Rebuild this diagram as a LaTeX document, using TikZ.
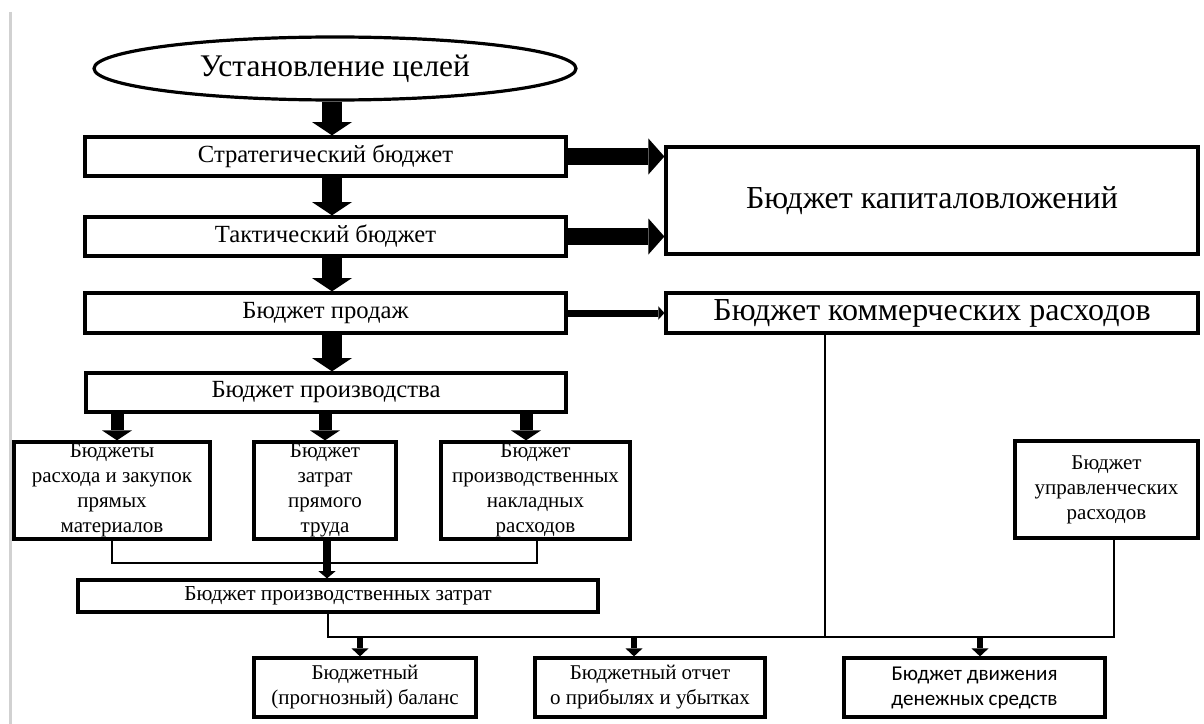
\documentclass[tikz,border=0pt]{standalone}
\usepackage{fontspec}
\setmainfont{Liberation Serif}
\newfontfamily\calfont{Carlito}
\usetikzlibrary{arrows.meta,shapes.geometric}
\begin{document}
\begin{tikzpicture}[x=0.75pt,y=-0.75pt,
  bx/.style={draw, line width=2.4pt, inner sep=0pt, align=center},
  ell/.style={ellipse, draw, line width=2.4pt, inner sep=0pt, minimum width=361.5pt, minimum height=47.25pt},
  fbig/.style={font=\fontsize{23.6}{28}\selectfont},
  flarge/.style={font=\fontsize{24}{28}\selectfont},
  fmid/.style={font=\fontsize{18.5}{22}\selectfont},
  fpz/.style={font=\fontsize{16}{19}\selectfont},
  fsmall/.style={font=\fontsize{15.75}{18.75}\selectfont},
  fcal/.style={font=\calfont\fontsize{15.8}{18.75}\selectfont},
  conn/.style={line width=0.9pt},
  bigarr/.style={line width=15pt, -{Triangle[width=30pt 0 0,length=10pt 0 0,line width=0pt]}},
  harr/.style={line width=12.75pt, -{Triangle[width=27pt 0 0,length=12pt 0 0,line width=0pt]}},
  medarr/.style={line width=9.75pt, -{Triangle[width=22.5pt 0 0,length=7.5pt 0 0,line width=0pt]}},
  smarr/.style={line width=6pt, -{Triangle[width=13pt 0 0,length=5.5pt 0 0,line width=0pt]}},
  sarr/.style={line width=5.25pt, -{Triangle[width=10pt 0 0,length=4.5pt 0 0,line width=0pt]}},
  botarr/.style={line width=4.5pt, -{Triangle[width=12.75pt 0 0,length=6pt 0 0,line width=0pt]}}
]
\useasboundingbox (0,0) rectangle (1204,724);
\fill[white] (0,0) rectangle (1204,724);
\draw[line width=2.25pt, black!18] (10,12) -- (10,724);

% nodes
\node[ell, fbig] (el) at (335,68.5) {Установление целей};
\node[bx, fmid, minimum width=360.75pt, minimum height=29.25pt] (strat) at (325.5,156.5) {Стратегический бюджет};
\node[bx, fmid, minimum width=360.75pt, minimum height=29.25pt] (tact) at (325.5,236.5) {Тактический бюджет};
\node[bx, fmid, minimum width=360.75pt, minimum height=30pt] (sales) at (325.5,313) {Бюджет продаж};
\node[bx, fmid, minimum width=360pt, minimum height=29.25pt] (prod) at (326,392.5) {Бюджет производства};
\node[bx, fsmall, minimum width=147pt, minimum height=72.75pt] (b1) at (112,490.5) {Бюджеты\\расхода и закупок\\прямых\\материалов};
\node[bx, fsmall, minimum width=106.5pt, minimum height=72.75pt] (b2) at (325,490.5) {Бюджет\\затрат\\прямого\\труда};
\node[bx, fsmall, minimum width=141.75pt, minimum height=72.75pt] (b3) at (535.5,490.5) {Бюджет\\производственных\\накладных\\расходов};
\node[bx, fpz, minimum width=390pt, minimum height=24pt] (pz) at (338,596) {Бюджет производственных затрат};
\node[bx, flarge, minimum width=399pt, minimum height=80.25pt] (cap) at (932,200.5) {Бюджет капиталовложений};
\node[bx, flarge, minimum width=399pt, minimum height=30pt] (comm) at (932,313) {Бюджет коммерческих расходов};
\node[bx, fsmall, minimum width=137.25pt, minimum height=72.75pt] (admin) at (1106.5,489.5) {Бюджет\\управленческих\\расходов};
\node[bx, fsmall, minimum width=166.5pt, minimum height=44.25pt] (bal) at (365,687.5) {Бюджетный\\(прогнозный) баланс};
\node[bx, fsmall, minimum width=172.5pt, minimum height=44.25pt] (pnl) at (650,687.5) {Бюджетный отчет\\о прибылях и убытках};
\node[bx, fcal, minimum width=195.75pt, minimum height=44.25pt] (cash) at (974.5,687.5) {Бюджет движения\\денежных средств};

% column / junction coordinates
\coordinate (cA) at (332,0);
\coordinate (c1) at (117,0);
\coordinate (c2) at (325,0);
\coordinate (c3) at (526,0);
\coordinate (cL) at (112,0);
\coordinate (cR) at (537,0);
\coordinate (cB) at (327,0);
\coordinate (cP) at (328,0);
\coordinate (cK) at (825,0);
\coordinate (cM) at (1114,0);
\coordinate (d1) at (360,0);
\coordinate (d2) at (634,0);
\coordinate (d3) at (980,0);
\coordinate (j1) at (0,563);
\coordinate (j2) at (0,637);

% main column arrows
\draw[bigarr] (el.south -| cA) -- (strat.north -| cA);
\draw[bigarr] (strat.south -| cA) -- (tact.north -| cA);
\draw[bigarr] (tact.south -| cA) -- (sales.north -| cA);
\draw[bigarr] (sales.south -| cA) -- (prod.north -| cA);

% to the right
\draw[harr] (strat.east) -- (strat.east -| cap.west);
\draw[harr] (tact.east) -- (tact.east -| cap.west);
\draw[sarr] (sales.east) -- (comm.west);

% production split
\draw[medarr] (prod.south -| c1) -- (b1.north -| c1);
\draw[medarr] (prod.south -| c2) -- (b2.north -| c2);
\draw[medarr] (prod.south -| c3) -- (b3.north -| c3);

% gather to production costs
\draw[conn] (b1.south -| cL) -- (j1 -| cL) -- (j1 -| cR) -- (b3.south -| cR);
\draw[smarr] (b2.south -| cB) -- (pz.north -| cB);

% bottom collector
\draw[conn] (pz.south -| cP) -- (j2 -| cP) -- (j2 -| cM) -- (admin.south -| cM);
\draw[conn] (comm.south -| cK) -- (j2 -| cK);
\draw[botarr] (j2 -| d1) -- (bal.north -| d1);
\draw[botarr] (j2 -| d2) -- (pnl.north -| d2);
\draw[botarr] (j2 -| d3) -- (cash.north -| d3);
\end{tikzpicture}
\end{document}
